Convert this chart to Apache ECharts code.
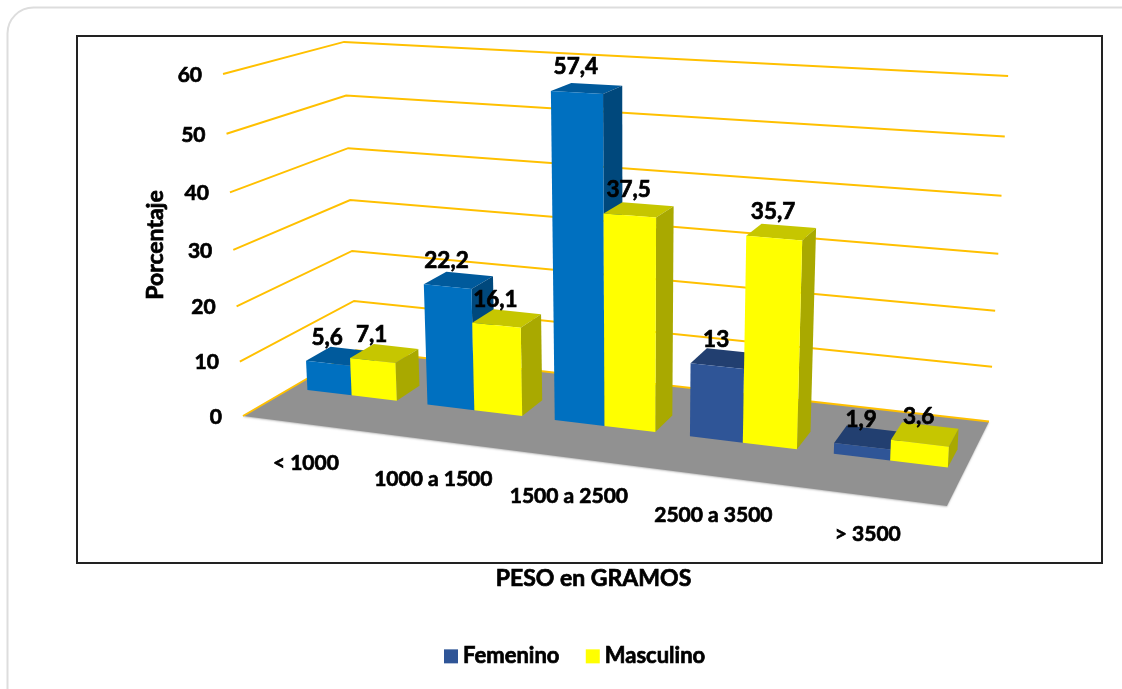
<!DOCTYPE html>
<html>
<head>
<meta charset="utf-8">
<style>html,body{margin:0;padding:0;background:#fff}#chart{width:1122px;height:689px}</style>
<script src="https://cdn.jsdelivr.net/npm/echarts@6/dist/echarts.min.js"></script>
</head>
<body>
<div id="chart"></div>
<script>
// Birth weight by sex, drawn as a 3D-look column chart.
const categories = ['< 1000', '1000 a 1500', '1500 a 2500', '2500 a 3500', '> 3500'];
const femenino = [5.6, 22.2, 57.4, 13, 1.9];
const masculino = [7.1, 16.1, 37.5, 35.7, 3.6];
const ticks = [0, 10, 20, 30, 40, 50, 60];

// Perspective camera: coefficients for 1, u, v, d, uv, ud
// (u along the categories, v up the value axis, d into the depth).
const camX = [243, 563.8, -32.3, 153.9, -5, -4.3];
const camY = [416, 15.1, -346.1, -25.5, 7.8, 2];
const camW = [1, -0.148, -0.0553, 0.115];

const FONT = 'Lato, "Open Sans", sans-serif';
const TICK_SIZE = 21, VALUE_SIZE = 22.5, TITLE_SIZE = 23, LEGEND_SIZE = 22;
const INK = { color: '#000', fontFamily: FONT, fontWeight: 'bold', fontSize: TITLE_SIZE, textBorderColor: '#000', textBorderWidth: 0.7 };
const BAR_FRONT = 0.4, BAR_BACK = 0.62, BAR_WIDTH = 0.375, BAR_SHIFT = 0.015;

const shades = {
  bright: { front: '#0070C0', top: '#005A9C', side: '#00487C' },
  deep: { front: '#2F5597', top: '#223F70', side: '#1F3864' },
  yellow: { front: '#FFFF00', top: '#C6C600', side: '#A9A900' }
};

function project(u, v, d) {
  const w = camW[0] + camW[1] * u + camW[2] * v + camW[3] * d;
  const base = (c) => c[0] + c[1] * u + c[2] * v + c[3] * d + c[4] * u * v + c[5] * u * d;
  return [base(camX) / w, base(camY) / w];
}

// Scene position of a (category, value) pair, read through the grid's scales.
function scene(params, api, cat, frac, value, d) {
  const sys = params.coordSys;
  const p = api.coord([cat, value]);
  const u = (p[0] + frac * api.size([1, 0])[0] - sys.x) / sys.width;
  const v = 1 - (p[1] - sys.y) / sys.height;
  return project(u, v, d);
}

function textEl(text, x, y, size, align) {
  return {
    type: 'text',
    style: {
      text, x, y, fill: '#000', stroke: '#000', lineWidth: 0.7,
      fontFamily: FONT, fontWeight: 'bold', fontSize: size,
      align: align || 'center', verticalAlign: 'middle'
    }
  };
}

function barSeries(name, values, from, to, legendColor, palette) {
  return {
    name,
    type: 'custom',
    coordinateSystem: 'cartesian2d',
    itemStyle: { color: legendColor },
    data: values.map((v, i) => [i, v]),
    encode: { x: 0, y: 1 },
    z: 3,
    renderItem(params, api) {
      const cat = api.value(0), val = api.value(1), c = palette(cat);
      const pt = (f, y, d) => scene(params, api, cat, f, y, d);
      const poly = (points, fill) => ({ type: 'polygon', shape: { points }, style: { fill } });
      const labelAt = pt((from + to) / 2, val, BAR_FRONT);
      return {
        type: 'group',
        children: [
          poly([pt(from, val, BAR_FRONT), pt(to, val, BAR_FRONT), pt(to, val, BAR_BACK), pt(from, val, BAR_BACK)], c.top),
          poly([pt(to, 0, BAR_FRONT), pt(to, val, BAR_FRONT), pt(to, val, BAR_BACK), pt(to, 0, BAR_BACK)], c.side),
          poly([pt(from, 0, BAR_FRONT), pt(to, 0, BAR_FRONT), pt(to, val, BAR_FRONT), pt(from, val, BAR_FRONT)], c.front),
          textEl(String(val).replace('.', ','), labelAt[0] - 1, labelAt[1] - 26, VALUE_SIZE)
        ]
      };
    }
  };
}

const chart = echarts.init(document.getElementById('chart'));
chart.setOption({
  animation: false,
  backgroundColor: '#fff',
  graphic: [{
    type: 'rect', z: -1, silent: true,
    shape: { x: 7.5, y: 7.5, width: 1150, height: 720, r: 26 },
    style: { fill: '#fff', stroke: '#DDDDDD', lineWidth: 2 }
  }],
  grid: { show: true, left: 77, top: 36, width: 1025, height: 527, borderColor: '#222', borderWidth: 2, backgroundColor: 'transparent' },
  legend: {
    data: ['Femenino', 'Masculino'], left: 439, top: 640, icon: 'rect', itemWidth: 14, itemHeight: 14, itemGap: 26,
    textStyle: Object.assign({}, INK, { fontSize: LEGEND_SIZE })
  },
  xAxis: {
    type: 'category', data: categories, boundaryGap: true,
    name: 'PESO en GRAMOS', nameLocation: 'middle', nameGap: 4,
    nameTextStyle: Object.assign({ padding: [0, 0, 0, 8], verticalAlign: 'top' }, INK),
    axisLine: { show: false }, axisTick: { show: false }, axisLabel: { show: false }, splitLine: { show: false }
  },
  yAxis: {
    type: 'value', min: 0, max: 60, interval: 10,
    name: 'Porcentaje', nameLocation: 'middle', nameGap: -90, nameRotate: 90,
    nameTextStyle: Object.assign({ padding: [0, 0, 0, 109] }, INK),
    axisLine: { show: false }, axisTick: { show: false }, axisLabel: { show: false }, splitLine: { show: false }
  },
  series: [
    {
      // Floor plane, painted once across the whole category range.
      name: 'Piso', type: 'custom', coordinateSystem: 'cartesian2d', z: 1,
      data: [[0, 0]],
      encode: { x: 0, y: 1 },
      renderItem(params, api) {
        const n = categories.length;
        const pt = (f, d) => scene(params, api, 0, f, 0, d);
        return {
          type: 'polygon',
          shape: { points: [pt(-0.5, 0), pt(n - 0.5, 0), pt(n - 0.5, 1), pt(-0.5, 1)] },
          style: { fill: '#919191', shadowColor: 'rgba(0,0,0,0.25)', shadowBlur: 2, shadowOffsetY: 1 }
        };
      }
    },
    {
      // Category labels set below the front edge of the floor.
      name: 'Categorias', type: 'custom', coordinateSystem: 'cartesian2d', z: 4,
      data: categories.map((c, i) => [i, 0]),
      encode: { x: 0, y: 1 },
      renderItem(params, api) {
        const i = api.value(0);
        const anchor = scene(params, api, i, 0, 0, 0);
        return textEl(categories[i], anchor[0] + 2, anchor[1] + 39, TICK_SIZE);
      }
    },
    {
      // Wall gridlines with their value labels.
      name: 'Rejilla', type: 'custom', coordinateSystem: 'cartesian2d', z: 2,
      data: ticks.map((t) => [0, t]),
      encode: { x: 0, y: 1 },
      renderItem(params, api) {
        const t = api.value(1), n = categories.length;
        const pt = (f, d) => scene(params, api, 0, f, t, d);
        const a = pt(-0.5, 0), b = pt(-0.5, 1), c = pt(n - 0.5, 1);
        return {
          type: 'group',
          children: [
            { type: 'polyline', shape: { points: [a, b, c] }, style: { stroke: '#FFC000', lineWidth: 2, fill: null } },
            textEl(String(t), a[0] - 21, a[1] + 1, TICK_SIZE, 'right')
          ]
        };
      }
    },
    barSeries('Femenino', femenino, -BAR_WIDTH + BAR_SHIFT, BAR_SHIFT, '#2F5597', (i) => (i < 3 ? shades.bright : shades.deep)),
    barSeries('Masculino', masculino, BAR_SHIFT, BAR_WIDTH + BAR_SHIFT, '#FFFF00', () => shades.yellow)
  ]
});
</script>
</body>
</html>
